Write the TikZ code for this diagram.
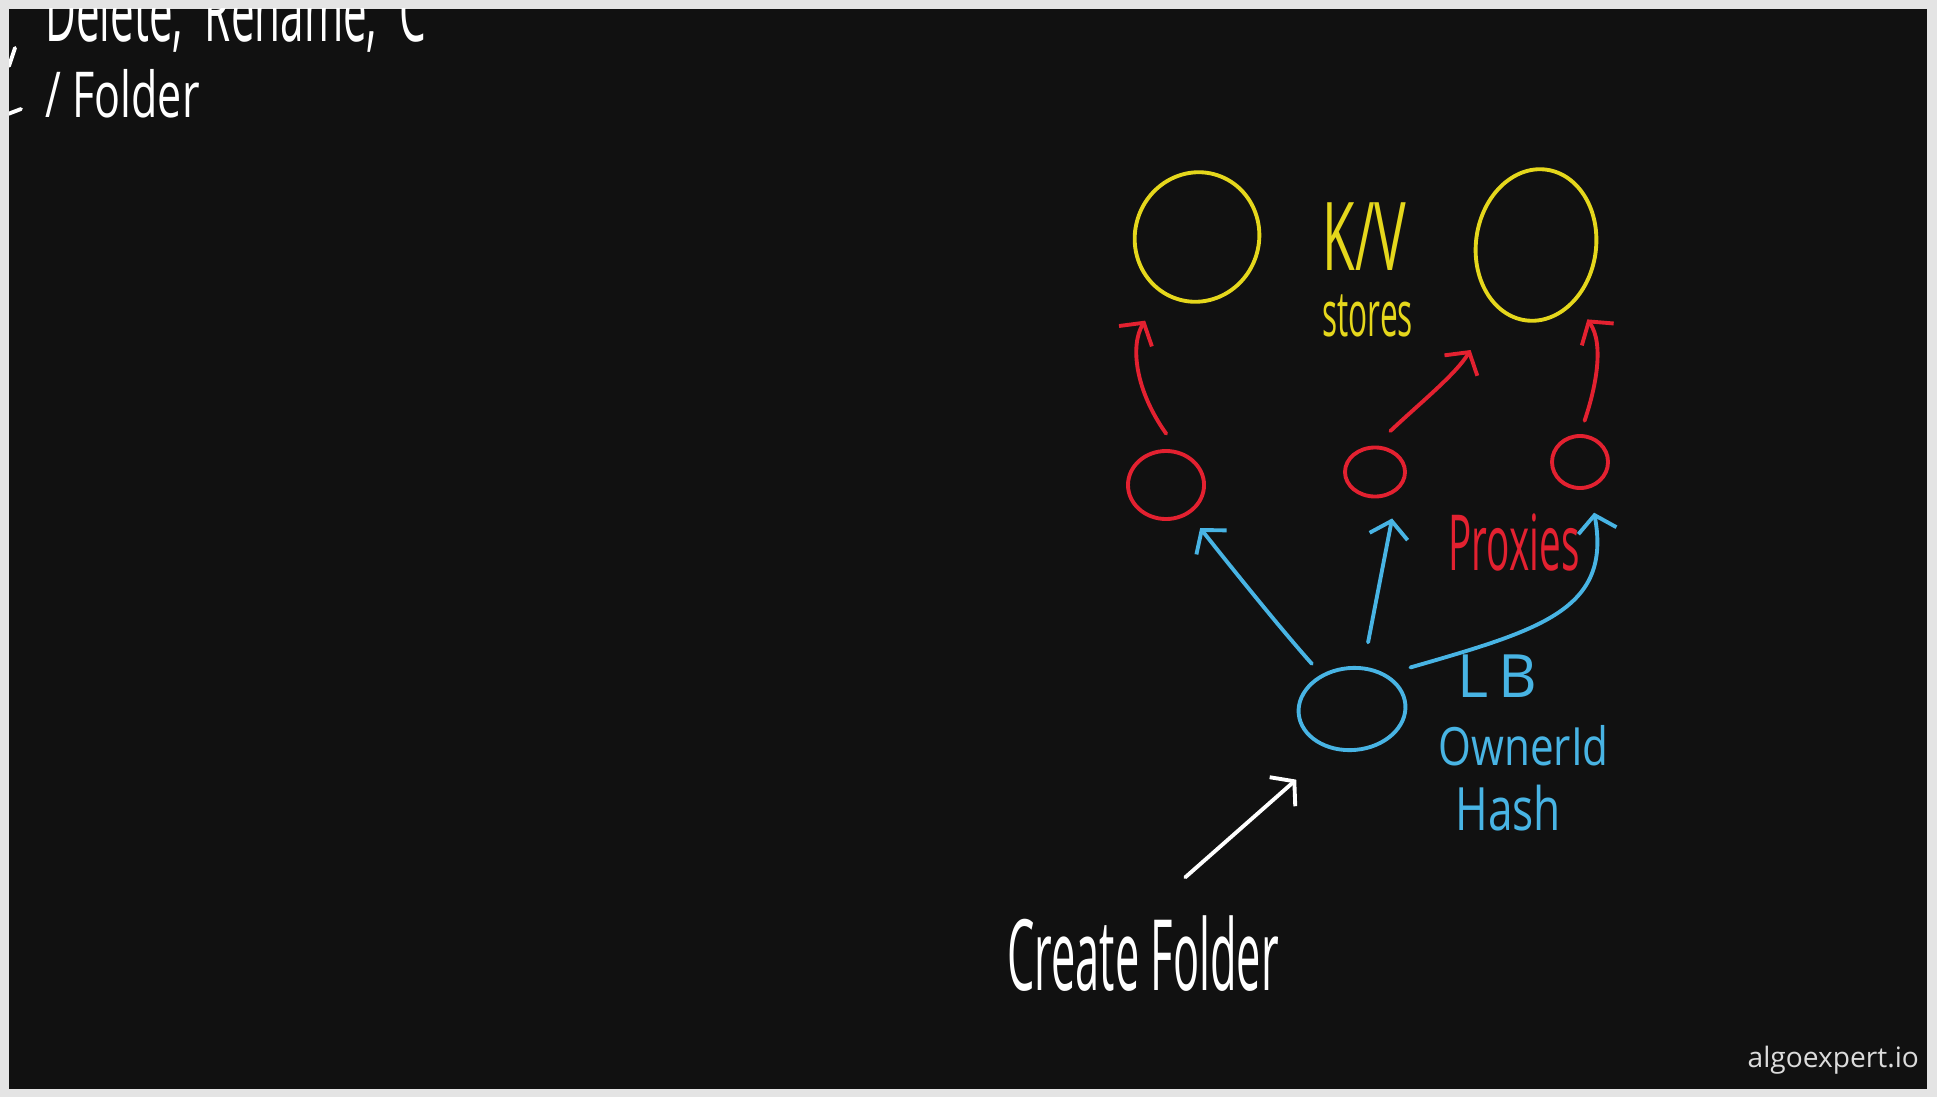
\documentclass[tikz,border=0pt]{standalone}
\usepackage{fontspec}
\setmainfont{Open Sans}
\usetikzlibrary{arrows.meta,shapes.geometric}
\definecolor{BoardBlack}{HTML}{111111}
\definecolor{FrameGray}{HTML}{E4E4E4}
\definecolor{StoreYellow}{HTML}{E5D71C}
\definecolor{ProxyRed}{HTML}{E32130}
\definecolor{BalancerBlue}{HTML}{48B4E4}
\definecolor{LogoGray}{HTML}{DCDCDC}

\begin{document}
\begin{tikzpicture}[
        x=0.01cm, y=-0.01cm,
        pen/.style={line width=1.1pt, line cap=round, line join=round},
        blob/.style={ellipse, draw, pen, inner sep=0pt},
        hand/.style={inner sep=0pt, anchor=base west},
        barb/.style={pen, -{Straight Barb[length=4.5pt, width=11pt]}}
      ]
        % Board and frame
        \fill[FrameGray] (0,0) rectangle (1937,1097);
        \fill[BoardBlack] (9,9) rectangle (1927,1089);
        \useasboundingbox (0,0) rectangle (1937,1097);

        \begin{scope}
        \clip (9,9) rectangle (1927,1089);

        % Leftovers of the earlier notes
        \node[hand, white, font=\fontsize{24}{26}\selectfont, xscale=0.5] (opsLabel) at (45,42) {Delete,\ \ Rename,\ \ C};
        \node[hand, white, font=\fontsize{18}{20}\selectfont, xscale=0.68] (folderLabel) at (45,118) {/\ Folder};
        \draw[pen, white] (15,48) -- (9,66);
        \draw[pen, white] (8,114) -- (21,109);

        % K/V stores
        \node[blob, StoreYellow, minimum width=1.24cm, minimum height=1.30cm, rotate=-18] (storeL) at (1197,237) {};
        \node[blob, StoreYellow, minimum width=1.20cm, minimum height=1.52cm, rotate=-8] (storeR) at (1536,245) {};
        \node[hand, StoreYellow, font=\fontsize{27}{29}\selectfont, xscale=0.56] (kvLabel) at (1322,270) {K/V};
        \node[hand, StoreYellow, font=\fontsize{18}{20}\selectfont, xscale=0.5] (storesLabel) at (1322,336) {stores};

        % Proxies
        \node[blob, ProxyRed, minimum width=0.76cm, minimum height=0.68cm] (proxyL) at (1166,485) {};
        \node[blob, ProxyRed, minimum width=0.60cm, minimum height=0.49cm] (proxyM) at (1375,472) {};
        \node[blob, ProxyRed, minimum width=0.56cm, minimum height=0.52cm] (proxyR) at (1580,462) {};
        \node[hand, ProxyRed, font=\fontsize{22}{24}\selectfont, xscale=0.5] (proxiesLabel) at (1448,570) {Proxies};

        % Load balancer
        \node[blob, BalancerBlue, minimum width=1.07cm, minimum height=0.82cm, rotate=5] (lb) at (1352,709) {};
        \node[hand, BalancerBlue, font=\fontsize{17}{19}\selectfont] (lbLabel) at (1457,697) {L\,B};
        \node[hand, BalancerBlue, font=\fontsize{15}{17}\selectfont, xscale=0.8] (ownerLabel) at (1438,765) {OwnerId};
        \node[hand, BalancerBlue, font=\fontsize{17}{19}\selectfont, xscale=0.74] (hashLabel) at (1455,830) {Hash};

        % Request
        \node[hand, white, font=\fontsize{28}{30}\selectfont, xscale=0.44] (createLabel) at (1007,990) {Create Folder};

        % Arrows
        \draw[barb, ProxyRed, shorten <=6pt, shorten >=9pt] (proxyL.70) .. controls (1135,390) and (1130,345) .. (storeL);
        \draw[barb, ProxyRed, shorten <=6pt, shorten >=14pt] (proxyM.north) .. controls (1420,403) and (1455,375) .. (storeR);
        \draw[barb, ProxyRed, shorten <=4pt, shorten >=6pt] (proxyR.north) .. controls (1595,390) and (1605,345) .. (storeR);
        \draw[barb, BalancerBlue, shorten <=4pt, shorten >=5pt] (lb) .. controls (1280,628) and (1235,572) .. (proxyL);
        \draw[barb, BalancerBlue, shorten <=7pt, shorten >=8pt] (lb.70) -- (proxyM.-40);
        \draw[barb, BalancerBlue, shorten <=7pt, shorten >=7pt] (lb.40) .. controls (1540,630) and (1612,610) .. (proxyR.-70);
        \draw[barb, white, shorten <=16pt, shorten >=13pt] (createLabel.north) -- (lb.237);

        % Watermark
        \node[hand, LogoGray, font=\fontsize{8}{10}\selectfont] (brandLabel) at (1747,1067) {algoexpert.io};
        \end{scope}
      \end{tikzpicture}
\end{document}
